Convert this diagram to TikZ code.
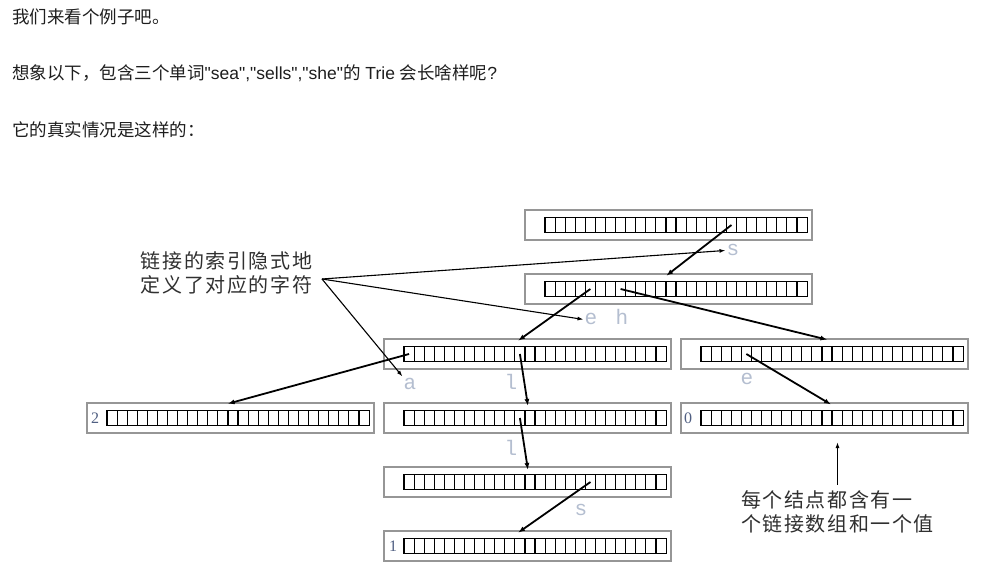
\documentclass[tikz,border=0pt]{standalone}
\usepackage{fontspec}
\setmainfont{Liberation Sans}[Ligatures=TeXOff]
\newfontfamily\cjk{Noto Sans CJK SC}
\newfontfamily\cjknote[LetterSpace=8]{Noto Sans CJK SC}
\newfontfamily\keyfont{Liberation Mono}
\newfontfamily\valfont{Liberation Serif}
\usetikzlibrary{arrows.meta, positioning, calc}
\definecolor{boxgray}{RGB}{150,150,150}
\definecolor{keyblue}{RGB}{180,190,208}
\definecolor{notegray}{RGB}{48,48,48}
\definecolor{valblue}{RGB}{80,95,130}
\definecolor{textdark}{RGB}{30,30,30}

\begin{document}
\begin{tikzpicture}[x=1pt, y=-1pt,
  trie/.style={draw=boxgray, line width=2pt, minimum width=287pt, minimum height=30pt, inner sep=0pt, outer sep=0pt},
  cell/.style={draw=black, line width=1.1pt, minimum width=10.08pt, minimum height=15pt, inner sep=0pt, outer sep=0pt},
  ptr/.style={line width=1.8pt, -{Latex[length=7pt,width=5pt]}, shorten >=-3pt},
  callout/.style={line width=1.1pt, -{Latex[length=6pt,width=4pt]}},
  keylbl/.style={font=\keyfont\fontsize{21}{21}\selectfont, text=keyblue, inner sep=1pt, anchor=base},
  vallbl/.style={font=\valfont\fontsize{16}{16}\selectfont, text=valblue, inner sep=0pt},
  note/.style={font=\cjknote\fontsize{20}{24}\selectfont, text=notegray, align=left, inner sep=0pt},
  textline/.style={font=\fontsize{17.5}{17.5}\selectfont, text=textdark, anchor=west, inner sep=0pt}
]
  \fill[white] (0,0) rectangle (988,577);
  \useasboundingbox (0,0) rectangle (988,577);

  % text above the figure
  \node[textline] (intro) at (12,17) {\cjk 我们来看个例子吧。};
  \node[textline] (question) at (12,73) {{\cjk 想象以下，包含三个单词}"sea","sells","she"{\cjk 的} Trie {\cjk 会长啥样呢}?};
  \node[textline] (answer) at (12,130) {\cjk 它的真实情况是这样的：};

  % trie nodes, 26 links each
  \foreach \nm/\cx/\cy in {root/668.5/225, s/668.5/289, se/527.5/354, sh/824.5/354,
      sea/230.5/418, sel/527.5/418, she/824.5/418, sell/527.5/482, sells/527.5/546} {
    \node[trie] (\nm) at (\cx,\cy) {};
    \foreach \i in {0,...,25}
      \node[cell] (\nm-\i) at ([xshift={-123.5+(\i+0.5)*10.08}]\nm.center) {};
  }

  % values
  \node[vallbl] (sea-val) at ([xshift=-135.5]sea.center) {2};
  \node[vallbl] (she-val) at ([xshift=-136.5]she.center) {0};
  \node[vallbl] (sells-val) at ([xshift=-134.5]sells.center) {1};

  % links
  \draw[ptr] (root-18.center) -- (s.north);
  \draw[ptr] (s-4.center) -- ([xshift=-7]se.north);
  \draw[ptr] (s-7.center) -- (sh.north);
  \draw[ptr] (se-0.center) -- (sea.north);
  \draw[ptr] (se-11.center) -- (sel.north);
  \draw[ptr] (sh-4.center) -- ([xshift=4]she.north);
  \draw[ptr] (sel-11.center) -- (sell.north);
  \draw[ptr] (sell-18.center) -- ([xshift=-7]sells.north);

  % implicit keys
  \node[keylbl] (key-s1) at (733,256) {s};
  \node[keylbl] (key-e1) at (591,325) {e};
  \node[keylbl] (key-h) at (622,325) {h};
  \node[keylbl] (key-a) at (410,389) {a};
  \node[keylbl] (key-l1) at (511,389) {l};
  \node[keylbl] (key-e2) at (747,384) {e};
  \node[keylbl] (key-l2) at (511,455) {l};
  \node[keylbl] (key-s2) at (581,515) {s};

  % notes
  \node[note] (note-key) at (226.5,273) {链接的索引隐式地\\定义了对应的字符};
  \coordinate (hub) at (322,279);
  \draw[callout] (hub) -- (key-s1.west);
  \draw[callout] (hub) -- (key-e1.west);
  \draw[callout] (hub) -- (key-a.north west);

  \node[note] (note-node) at (837.5,512) {每个结点都含有一\\个链接数组和一个值};
  \draw[callout, line width=1.4pt, shorten <=6pt, shorten >=9pt] (note-node.north) -- (note-node.north |- she.south);
\end{tikzpicture}
\end{document}
